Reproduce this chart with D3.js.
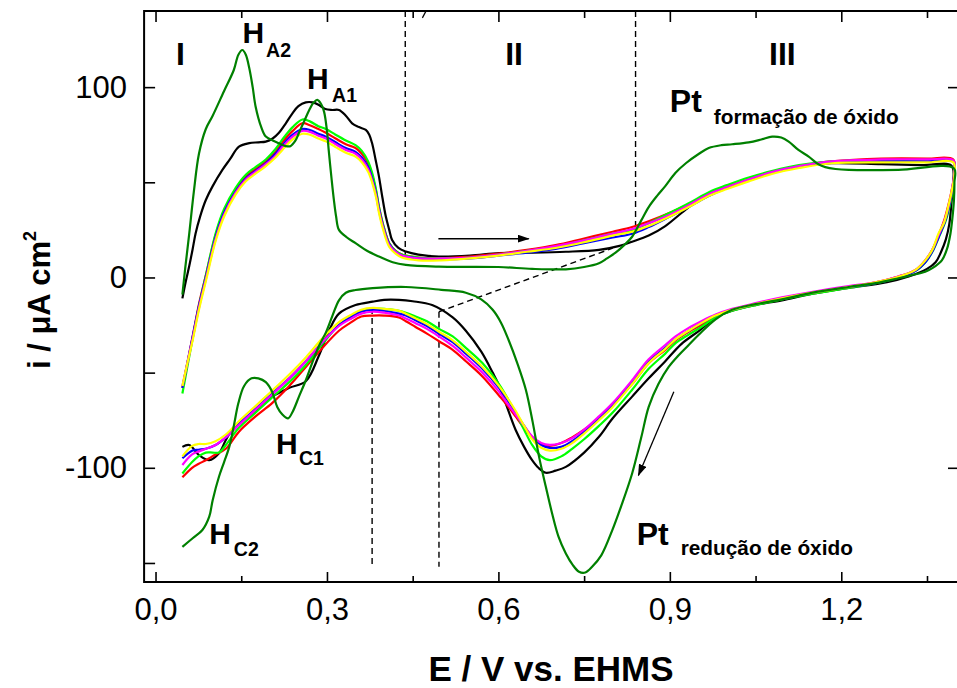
<!DOCTYPE html>
<html><head><meta charset="utf-8">
<script src="https://cdn.jsdelivr.net/npm/d3@7"></script>
<style>
body{margin:0;background:#fff}
text{font-family:"Liberation Sans",Arial,Helvetica,sans-serif}
</style>
</head><body>
<svg id="c" width="957" height="688"></svg>
<script>
// ---------- DATA (E / V vs. EHMS, i / µA cm^-2), loop order: anodic then cathodic ----------
const blackCV = [[0.047,-11],[0.053,-2],[0.059,6],[0.065,15],[0.070,23],[0.078,32],[0.088,40.7],[0.100,48],[0.117,56.5],[0.130,62],[0.146,68.7],[0.164,70.6],[0.180,71],[0.193,71.4],[0.205,73],[0.216,76],[0.228,81],[0.239,86],[0.250,90],[0.263,92],[0.275,92],[0.286,90.6],[0.297,88.5],[0.309,88],[0.321,88],[0.333,85],[0.344,81],[0.356,79],[0.368,77.5],[0.374,75],[0.379,70.5],[0.385,62],[0.391,53],[0.397,42],[0.403,32],[0.409,25],[0.414,19.7],[0.425,15.5],[0.438,13.6],[0.460,12],[0.496,11],[0.550,11.5],[0.601,12.8],[0.650,13],[0.718,13.5],[0.776,14.5],[0.810,16.5],[0.834,18.8],[0.863,22],[0.892,27],[0.921,34],[0.951,41],[0.980,45.5],[1.009,48.5],[1.038,51],[1.080,55],[1.126,58.5],[1.183,60],[1.270,59.5],[1.340,59],[1.393,58.7],
  [1.396,50],[1.393,40],[1.389,28],[1.383,20],[1.374,13],[1.365,8],[1.350,4.5],[1.318,0.5],[1.280,-2.5],[1.213,-5.5],[1.150,-8.5],[1.096,-12],[1.050,-14.5],[1.009,-17.5],[0.980,-21],[0.951,-28],[0.920,-35],[0.892,-44],[0.863,-53],[0.834,-62.6],[0.800,-74],[0.776,-83.7],[0.750,-92],[0.718,-99.5],[0.700,-101.5],[0.683,-102.6],[0.670,-100],[0.659,-96],[0.645,-89],[0.630,-80],[0.615,-68],[0.600,-56],[0.590,-50],[0.570,-39],[0.543,-28],[0.520,-21],[0.484,-14.5],[0.450,-12.5],[0.426,-11.8],[0.400,-11.8],[0.380,-12.7],[0.350,-14.5],[0.321,-19],[0.305,-27],[0.286,-41],[0.263,-54.5],[0.234,-58],[0.204,-62.6],[0.175,-70],[0.150,-76],[0.134,-80],[0.123,-85.4],[0.111,-92.4],[0.094,-96],[0.076,-93.3],[0.059,-88],[0.047,-89]];

const redCV = [[0.047,-58],[0.055,-46],[0.065,-31],[0.076,-14],[0.088,1],[0.105,22],[0.120,35],[0.140,46],[0.158,53],[0.175,57],[0.193,61],[0.210,66],[0.222,71],[0.240,77],[0.257,81],[0.270,80],[0.285,78],[0.298,76],[0.315,73],[0.333,70],[0.350,68],[0.361,65],[0.372,60],[0.379,54],[0.386,45],[0.391,37],[0.398,28],[0.409,18],[0.420,14],[0.431,12],[0.460,10.5],[0.500,10],[0.550,11],[0.600,12.5],[0.650,14.5],[0.700,17],[0.750,20.5],[0.800,24],[0.834,26.5],[0.863,29.5],[0.900,34],[0.933,38.5],[0.970,44],[1.000,47.5],[1.038,51.5],[1.080,55.5],[1.126,58.5],[1.183,61],[1.270,62.5],[1.350,62.5],[1.396,62],
  [1.398,55],[1.394,47],[1.389,40],[1.381,31],[1.370,22],[1.360,15],[1.347,9],[1.330,4],[1.300,0.5],[1.260,-2.5],[1.213,-5],[1.150,-8],[1.096,-11],[1.050,-14],[1.009,-17],[0.980,-20.5],[0.955,-25],[0.933,-28.5],[0.910,-33],[0.892,-38],[0.863,-45],[0.834,-56],[0.800,-67],[0.776,-74],[0.750,-80],[0.729,-84],[0.710,-87],[0.688,-88.5],[0.670,-86.5],[0.659,-84],[0.645,-79],[0.630,-73],[0.615,-67],[0.601,-62],[0.572,-52],[0.543,-44],[0.520,-38],[0.496,-33.5],[0.475,-29.5],[0.455,-26],[0.438,-23],[0.426,-21],[0.400,-20],[0.380,-20],[0.360,-20.5],[0.340,-24],[0.321,-28],[0.292,-37],[0.263,-47],[0.234,-57],[0.204,-66],[0.175,-73],[0.146,-81],[0.123,-90],[0.105,-93],[0.088,-96],[0.075,-98],[0.064,-100],[0.047,-105]];

const limeCV = [[0.047,-61],[0.055,-48],[0.065,-32],[0.076,-15],[0.088,1],[0.105,23],[0.120,36],[0.140,47],[0.158,54],[0.175,58],[0.193,62],[0.210,67.5],[0.222,72.5],[0.240,79],[0.257,83],[0.270,82],[0.285,79.5],[0.298,78],[0.315,75],[0.333,72],[0.350,69.5],[0.361,66.5],[0.372,61],[0.379,55],[0.386,46],[0.391,37],[0.398,28],[0.409,18],[0.420,14],[0.431,12],[0.460,10.5],[0.500,10],[0.550,10.5],[0.600,12],[0.650,14],[0.700,16],[0.750,19.5],[0.800,23],[0.834,25],[0.863,28.5],[0.900,34],[0.933,39],[0.970,45],[1.000,48.5],[1.038,52.5],[1.080,56],[1.126,59],[1.183,61],[1.270,61.5],[1.350,61.5],[1.396,61],
  [1.398,55],[1.395,46],[1.390,38],[1.383,30],[1.372,22],[1.362,15],[1.350,9],[1.333,4],[1.300,0],[1.260,-3],[1.213,-5.5],[1.150,-8.5],[1.096,-11.5],[1.050,-14.5],[1.009,-17.5],[0.980,-21],[0.955,-26],[0.933,-30],[0.910,-34.5],[0.892,-40],[0.863,-48],[0.834,-59],[0.800,-71],[0.776,-78],[0.750,-85],[0.729,-90],[0.710,-94],[0.690,-96],[0.675,-94],[0.659,-88],[0.645,-80],[0.630,-71],[0.615,-63],[0.601,-56],[0.572,-45],[0.543,-37],[0.520,-31],[0.496,-27],[0.475,-23],[0.455,-20.5],[0.438,-18.5],[0.426,-17.5],[0.400,-16.5],[0.380,-16.5],[0.360,-17.5],[0.340,-21],[0.321,-25],[0.292,-35],[0.263,-46],[0.234,-55],[0.204,-63],[0.175,-71],[0.146,-79],[0.123,-88],[0.111,-92],[0.100,-92],[0.088,-92],[0.075,-94],[0.064,-97],[0.047,-103]];

const blueCV = [[0.047,-58],[0.055,-46],[0.065,-31],[0.076,-15],[0.088,0],[0.105,21],[0.120,34],[0.140,45],[0.158,52],[0.175,56],[0.193,60],[0.210,65],[0.222,69.5],[0.240,75],[0.257,78],[0.270,77.5],[0.285,75.5],[0.298,74],[0.315,71],[0.333,68],[0.350,66],[0.361,63],[0.372,58],[0.379,52],[0.386,44],[0.391,36],[0.398,27],[0.409,17.5],[0.420,13.5],[0.431,11.5],[0.460,10],[0.500,9.5],[0.550,10],[0.600,11.5],[0.650,13],[0.700,15],[0.750,18],[0.800,21],[0.834,23],[0.863,26.5],[0.900,32],[0.933,37],[0.970,43],[1.000,47],[1.038,51],[1.080,55],[1.126,58],[1.183,60.5],[1.270,61],[1.350,61],[1.396,61],
  [1.398,55],[1.394,46],[1.389,38],[1.381,29],[1.370,21],[1.360,14],[1.347,8],[1.330,3.5],[1.300,0],[1.260,-3],[1.213,-5],[1.150,-8],[1.096,-11],[1.050,-14],[1.009,-17],[0.980,-20],[0.955,-24],[0.933,-28],[0.910,-32.5],[0.892,-37],[0.863,-44],[0.834,-55],[0.800,-67],[0.776,-74],[0.750,-81],[0.729,-86],[0.710,-89],[0.690,-89.5],[0.675,-88],[0.659,-84],[0.645,-78],[0.630,-71],[0.615,-64],[0.601,-58],[0.572,-48],[0.543,-40],[0.520,-34],[0.496,-29.5],[0.475,-25.5],[0.455,-22.5],[0.438,-20],[0.426,-19],[0.400,-17.5],[0.380,-17],[0.360,-18],[0.340,-21],[0.321,-25],[0.292,-34],[0.263,-44],[0.234,-53],[0.204,-61],[0.175,-69],[0.146,-77],[0.123,-84],[0.105,-88],[0.088,-90],[0.075,-90.5],[0.064,-91],[0.047,-95]];

const magentaCV = [[0.047,-57],[0.055,-46],[0.065,-32],[0.076,-16],[0.088,-1],[0.105,20],[0.120,33],[0.140,44.5],[0.158,51.5],[0.175,55.5],[0.193,59.5],[0.210,64],[0.222,68.5],[0.240,74],[0.257,77],[0.270,76.5],[0.285,74.5],[0.298,73],[0.315,70],[0.333,67],[0.350,65],[0.361,62],[0.372,57],[0.379,51],[0.386,43],[0.391,35],[0.398,26.5],[0.409,17],[0.420,13.5],[0.431,11.5],[0.460,10],[0.500,10],[0.550,10.5],[0.600,12],[0.650,14],[0.700,16.5],[0.750,19.5],[0.800,23],[0.834,25.5],[0.863,28.5],[0.900,33],[0.933,38],[0.970,44],[1.000,47.5],[1.038,51.5],[1.080,55.5],[1.126,58.5],[1.183,61],[1.270,62],[1.350,62],[1.396,61.5],
  [1.398,55.5],[1.394,47],[1.389,39],[1.381,30],[1.370,22],[1.360,15],[1.347,9],[1.330,4],[1.300,0.5],[1.260,-2.5],[1.213,-4.5],[1.150,-7.5],[1.096,-10.5],[1.050,-13.5],[1.009,-16.5],[0.980,-19.5],[0.955,-23],[0.933,-26.5],[0.910,-31],[0.892,-35.5],[0.863,-43],[0.834,-54],[0.800,-66],[0.776,-73],[0.750,-80],[0.729,-84.5],[0.710,-87],[0.690,-88],[0.675,-87],[0.659,-83.5],[0.645,-78],[0.630,-72],[0.615,-66],[0.601,-60],[0.572,-50],[0.543,-42],[0.520,-36],[0.496,-31],[0.475,-27],[0.455,-24],[0.438,-21.5],[0.426,-20],[0.400,-18.5],[0.380,-18],[0.360,-19],[0.340,-22],[0.321,-25.5],[0.292,-34],[0.263,-44],[0.234,-53],[0.204,-61.5],[0.175,-69.5],[0.146,-77.5],[0.123,-84],[0.105,-88],[0.088,-90],[0.075,-91.5],[0.064,-93],[0.047,-98.5]];

const yellowCV = [[0.047,-57],[0.055,-46],[0.065,-33],[0.076,-17],[0.088,-2],[0.105,19],[0.120,32],[0.140,43.5],[0.158,50.5],[0.175,54.5],[0.193,58.5],[0.210,63],[0.222,67],[0.240,72.5],[0.257,75.5],[0.270,75],[0.285,73],[0.298,71.5],[0.315,68.5],[0.333,65.5],[0.350,63.5],[0.361,60.5],[0.372,55.5],[0.379,50],[0.386,42],[0.391,34],[0.398,25.5],[0.409,16],[0.420,12.5],[0.431,10.5],[0.460,9],[0.500,9],[0.550,10],[0.600,11.5],[0.650,13.5],[0.700,15.5],[0.750,18.5],[0.800,22],[0.834,24],[0.863,27],[0.900,32],[0.933,37],[0.970,43],[1.000,46.5],[1.038,50.5],[1.080,54.5],[1.126,57.5],[1.183,60],[1.270,60.5],[1.350,60.5],[1.396,60.5],
  [1.398,54],[1.393,45],[1.387,37],[1.380,29],[1.370,23],[1.360,15],[1.347,9],[1.330,4],[1.300,0.4],[1.260,-2.5],[1.213,-5],[1.150,-8],[1.096,-11],[1.050,-14],[1.009,-17],[0.980,-20],[0.955,-24],[0.933,-28],[0.910,-32.5],[0.892,-37.5],[0.863,-45],[0.834,-56],[0.800,-68],[0.776,-75],[0.750,-82],[0.729,-87],[0.710,-90],[0.690,-91],[0.675,-89.5],[0.659,-85],[0.645,-78],[0.630,-70],[0.615,-63],[0.601,-57],[0.572,-47],[0.543,-39],[0.520,-33],[0.496,-28.5],[0.475,-24.5],[0.455,-21.5],[0.438,-19],[0.426,-17.5],[0.400,-16.5],[0.380,-16],[0.360,-17],[0.340,-20],[0.321,-23.5],[0.292,-32],[0.263,-42],[0.234,-51],[0.204,-59.5],[0.175,-67.5],[0.146,-75.5],[0.123,-82.5],[0.105,-86],[0.088,-87.5],[0.075,-87.5],[0.064,-88.5],[0.047,-94]];

const darkGreenCV = [[0.047,-9],[0.052,5],[0.059,23],[0.067,45],[0.076,65],[0.088,78],[0.100,85],[0.120,98],[0.137,109],[0.145,117],[0.152,119.5],[0.158,117],[0.164,110],[0.170,100],[0.175,90],[0.185,79],[0.193,74],[0.205,72],[0.216,70.5],[0.228,69],[0.236,69],[0.245,72],[0.251,76],[0.260,82],[0.269,88],[0.277,92],[0.283,93.3],[0.290,91],[0.295,87],[0.300,77],[0.303,67],[0.308,52],[0.312,41],[0.316,32],[0.321,25],[0.335,21],[0.350,18],[0.370,14],[0.391,11],[0.415,8],[0.438,6.6],[0.496,5.7],[0.600,5.5],[0.659,4.5],[0.718,4.3],[0.750,5.5],[0.776,7.5],[0.790,10],[0.805,13],[0.820,17],[0.834,21.4],[0.850,30],[0.863,37],[0.878,43],[0.892,48],[0.910,55],[0.928,60],[0.951,65],[0.968,68],[0.990,69.5],[1.009,70],[1.038,71],[1.060,72.5],[1.079,74],[1.095,73.5],[1.108,71.4],[1.125,67],[1.143,63.5],[1.160,59.5],[1.172,58],[1.190,57],[1.213,56.5],[1.300,56.5],[1.397,57.4],
  [1.398,50],[1.397,40],[1.394,30],[1.391,23],[1.385,15],[1.376,9],[1.360,5],[1.347,3],[1.320,1],[1.300,-0.4],[1.260,-3],[1.213,-5],[1.150,-8],[1.096,-11.5],[1.050,-14],[1.009,-17],[0.980,-22],[0.951,-30],[0.933,-35.5],[0.915,-41],[0.898,-47],[0.880,-56],[0.863,-68],[0.850,-84],[0.834,-103],[0.815,-120],[0.799,-133],[0.780,-146],[0.764,-152],[0.752,-155],[0.741,-154.6],[0.730,-151],[0.718,-145],[0.705,-136],[0.694,-124],[0.683,-110],[0.671,-94],[0.660,-76],[0.648,-59],[0.633,-45],[0.618,-33],[0.605,-24],[0.590,-17],[0.570,-11.5],[0.543,-8],[0.500,-6.5],[0.438,-5],[0.380,-5.6],[0.350,-6.6],[0.333,-8],[0.321,-12],[0.309,-20.6],[0.298,-29],[0.286,-36],[0.274,-45],[0.263,-54],[0.251,-62.6],[0.240,-70.5],[0.232,-74],[0.222,-72],[0.213,-68],[0.204,-60],[0.193,-55],[0.180,-53],[0.168,-53],[0.155,-57],[0.145,-66],[0.137,-78],[0.129,-89],[0.120,-97],[0.111,-104.7],[0.100,-117],[0.094,-125.7],[0.082,-132.7],[0.065,-137],[0.047,-141.5]];

const xMajorTicks = [0, 0.3, 0.6, 0.9, 1.2];
const xMinorTicks = [0.15, 0.45, 0.75, 1.05, 1.35];
const yMajorTicks = [-100, 0, 100];
const yMinorTicks = [-150, -50, 50];

// ---------- SETUP ----------
const svg = d3.select("#c");
svg.append("rect").attr("width",957).attr("height",688).attr("fill","#fff");
const x = d3.scaleLinear().domain([-0.02, 1.406]).range([144.1, 959]);
const y = d3.scaleLinear().domain([-160, 140]).range([582, 11]);

const series = [
  {data: blackCV, color: "#000000"},
  {data: redCV, color: "#ff0000"},
  {data: limeCV, color: "#00ff00"},
  {data: blueCV, color: "#0000ff"},
  {data: magentaCV, color: "#ff00ff"},
  {data: yellowCV, color: "#ffff00"},
  {data: darkGreenCV, color: "#008000"}
];

const defs = svg.append("defs");
defs.append("marker").attr("id","arr").attr("viewBox","0 0 12 8").attr("refX",11).attr("refY",4)
  .attr("markerWidth",12).attr("markerHeight",8).attr("markerUnits","userSpaceOnUse").attr("orient","auto")
  .append("path").attr("d","M0,0 L12,4 L0,8 Z").attr("fill","#000");

// dashed guide lines (E, i endpoints)
const dashed = [
  [[0.437,140],[0.437,12]],
  [[0.840,140],[0.840,25]],
  [[0.379,-16],[0.379,-152]],
  [[0.496,-18],[0.496,-152]],
  [[0.496,-18],[0.800,15.4]]
];
const lineGen = d3.line().x(d=>x(d[0])).y(d=>y(d[1]));
dashed.forEach(seg=>{
  svg.append("path").attr("d", lineGen(seg)).attr("stroke","#000").attr("stroke-width",1.4)
    .attr("stroke-dasharray","6,4").attr("fill","none");
});
// tiny mark near top
svg.append("path").attr("d", lineGen([[0.467,136.4],[0.473,139.8]])).attr("stroke","#000").attr("stroke-width",1.2);

// curves
const curve = d3.line().x(d=>x(d[0])).y(d=>y(d[1])).curve(d3.curveCatmullRom.alpha(0.5));
series.forEach(s=>{
  svg.append("path").attr("d", curve(s.data)).attr("fill","none")
    .attr("stroke", s.color).attr("stroke-width", 2.2).attr("stroke-linejoin","round");
});

// arrows
svg.append("path").attr("d", lineGen([[0.495,20.4],[0.653,20.4]])).attr("stroke","#000").attr("stroke-width",1.5).attr("marker-end","url(#arr)");
svg.append("path").attr("d", lineGen([[0.907,-60],[0.845,-104]])).attr("stroke","#000").attr("stroke-width",1.3).attr("marker-end","url(#arr)");

// frame
svg.append("rect").attr("x",x(-0.02)).attr("y",y(140)).attr("width",x(1.406)-x(-0.02)).attr("height",y(-160)-y(140))
  .attr("fill","none").attr("stroke","#000").attr("stroke-width",2);

// axes
const fmtX = d => d3.format(".1f")(d).replace(".", ",");
const fmtY = d => String(d);
function styleAxis(g){ g.select(".domain").remove(); g.selectAll("line").attr("stroke","#000").attr("stroke-width",1.6); g.selectAll("text").attr("font-family","Liberation Sans, Arial, sans-serif").attr("font-size",31).attr("fill","#000"); }
svg.append("g").attr("transform",`translate(0,${y(-160)})`).call(d3.axisBottom(x).tickValues(xMajorTicks).tickSizeInner(-10).tickSizeOuter(0).tickPadding(16).tickFormat(fmtX)).call(styleAxis);
svg.append("g").attr("transform",`translate(0,${y(-160)})`).call(d3.axisBottom(x).tickValues(xMinorTicks).tickSizeInner(-6).tickSizeOuter(0).tickFormat("")).call(styleAxis);
svg.append("g").attr("transform",`translate(0,${y(140)})`).call(d3.axisTop(x).tickValues(xMajorTicks).tickSizeInner(-11).tickSizeOuter(0).tickFormat("")).call(styleAxis);
svg.append("g").attr("transform",`translate(0,${y(140)})`).call(d3.axisTop(x).tickValues(xMinorTicks).tickSizeInner(-7).tickSizeOuter(0).tickFormat("")).call(styleAxis);
svg.append("g").attr("transform",`translate(${x(-0.02)},0)`).call(d3.axisLeft(y).tickValues(yMajorTicks).tickSizeInner(-11).tickSizeOuter(0).tickPadding(17).tickFormat(fmtY)).call(styleAxis);
svg.append("g").attr("transform",`translate(${x(-0.02)},0)`).call(d3.axisLeft(y).tickValues(yMinorTicks).tickSizeInner(-11).tickSizeOuter(0).tickFormat("")).call(styleAxis);
svg.append("g").attr("transform",`translate(${x(1.406)},0)`).call(d3.axisRight(y).tickValues(yMajorTicks).tickSizeInner(-11).tickSizeOuter(0).tickFormat("")).call(styleAxis);

// axis titles
svg.append("text").attr("x",551).attr("y",681).attr("text-anchor","middle").attr("font-weight","bold").attr("font-size",35).text("E / V vs. EHMS");
const yl = svg.append("text").attr("transform","translate(50,300) rotate(-90)").attr("text-anchor","middle").attr("font-weight","bold").attr("font-size",31);
yl.append("tspan").text("i / μA cm");
yl.append("tspan").attr("font-size",18).attr("dy",-14).text("2");

// annotations (positions in data coordinates)
const bigLabels = [
  {t:"I", e:0.0434, i:111.7, a:"middle", s:32},
  {t:"II", e:0.6275, i:111.7, a:"middle", s:32},
  {t:"III", e:1.0969, i:111.7, a:"middle", s:32},
  {t:"H", e:0.152, i:123.0, a:"start", s:30},
  {t:"H", e:0.265, i:98.8, a:"start", s:30},
  {t:"Pt", e:0.900, i:87.1, a:"start", s:32},
  {t:"H", e:0.211, i:-92.5, a:"start", s:30},
  {t:"H", e:0.094, i:-139.8, a:"start", s:30},
  {t:"Pt", e:0.842, i:-140.6, a:"start", s:32}
];
const subLabels = [
  {t:"A2", e:0.1935, i:115.9, s:19.5},
  {t:"A1", e:0.309, i:92.2, s:19.5},
  {t:"formação de óxido", e:0.977, i:80.5, s:20.8},
  {t:"C1", e:0.251, i:-98.5, s:19.5},
  {t:"C2", e:0.137, i:-146.4, s:19.5},
  {t:"redução de óxido", e:0.919, i:-145.8, s:20.8}
];
bigLabels.forEach(l=>svg.append("text").attr("x",x(l.e)).attr("y",y(l.i)).attr("text-anchor",l.a)
  .attr("font-weight","bold").attr("font-size",l.s).text(l.t));
subLabels.forEach(l=>svg.append("text").attr("x",x(l.e)).attr("y",y(l.i)).attr("text-anchor","start")
  .attr("font-weight","bold").attr("font-size",l.s).text(l.t));
</script>
</body></html>
